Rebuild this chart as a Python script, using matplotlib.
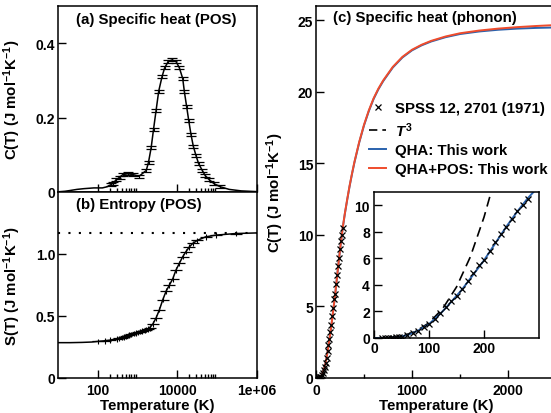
import numpy as np
import matplotlib
matplotlib.use("Agg")
import matplotlib.pyplot as plt
from matplotlib.lines import Line2D
from matplotlib.ticker import FixedLocator, FixedFormatter, NullFormatter

plt.rcParams['font.family'] = ['Liberation Sans', 'DejaVu Sans']
plt.rcParams['font.weight'] = 'bold'
plt.rcParams['mathtext.fontset'] = 'custom'
plt.rcParams['mathtext.rm'] = 'Liberation Sans:bold'
plt.rcParams['mathtext.bf'] = 'Liberation Sans:bold'
plt.rcParams['mathtext.it'] = 'Liberation Sans:bold:italic'
plt.rcParams['mathtext.default'] = 'bf'

# (a) POS specific heat
T_pos = [10, 15, 20, 30, 45, 60, 80, 100, 130, 170, 210, 241, 293, 356, 428, 570,
         760, 1080, 1650, 1880, 2190, 2510, 2920, 3390, 4110, 4790, 5920, 7300,
         9200, 11200, 13600, 15000, 17100, 19200, 22000, 25100, 29300, 34200,
         41700, 50100, 63100, 84300, 120000, 200000, 400000, 1000000]
C_pos = [0.0005, 0.002, 0.004, 0.007, 0.009, 0.010, 0.011, 0.011, 0.011, 0.014,
         0.019, 0.024, 0.033, 0.040, 0.047, 0.049, 0.047, 0.042, 0.058, 0.080,
         0.119, 0.168, 0.220, 0.271, 0.310, 0.334, 0.351, 0.355, 0.351, 0.334,
         0.305, 0.269, 0.229, 0.193, 0.154, 0.123, 0.098, 0.076, 0.059, 0.044,
         0.033, 0.022, 0.014, 0.007, 0.003, 0.001]
C_pos_err = 0.004

# (b) POS entropy
T_ent = [10, 20, 40, 70, 100, 150, 200, 300, 350, 400, 450, 500, 600, 700, 800,
         900, 1000, 1150, 1300, 1500, 1650, 1800, 2000, 2410, 2920, 3550, 4300,
         5200, 6300, 7650, 9200, 11200, 13600, 16500, 20000, 24200, 31600, 51000,
         91000, 290000, 1000000]
S_pos = [0.285, 0.285, 0.287, 0.290, 0.295, 0.300, 0.305, 0.315, 0.320, 0.325,
         0.330, 0.335, 0.345, 0.352, 0.360, 0.364, 0.368, 0.373, 0.378, 0.385,
         0.390, 0.396, 0.405, 0.435, 0.485, 0.552, 0.632, 0.700, 0.750, 0.800,
         0.870, 0.925, 0.978, 1.020, 1.058, 1.085, 1.110, 1.138, 1.152, 1.165, 1.170]
S_pos_err = 0.022
S_limit = 1.17

# (c) phonon specific heat
T_calc = [0, 20, 40, 60, 80, 100, 120, 140, 160, 180, 200, 220, 240, 260, 280,
          300, 325, 350, 375, 400, 450, 500, 550, 600, 650, 700, 800, 900, 1000,
          1100, 1200, 1350, 1500, 1700, 1900, 2100, 2300, 2500]
C_qha = [0.0, 0.01, 0.05, 0.2, 0.55, 1.05, 1.8, 2.7, 3.65, 4.75, 5.85, 7.1, 8.35,
         9.5, 10.55, 11.45, 12.45, 13.4, 14.25, 15.05, 16.45, 17.65, 18.65, 19.5,
         20.18, 20.75, 21.7, 22.4, 22.9, 23.25, 23.52, 23.82, 24.04, 24.22, 24.34,
         24.42, 24.47, 24.5]
C_qha_pos = [0.0, 0.014, 0.058, 0.21, 0.561, 1.061, 1.812, 2.714, 3.666, 4.767,
             5.869, 7.121, 8.374, 9.53, 10.582, 11.484, 12.487, 13.44, 14.293,
             15.095, 16.498, 17.699, 18.699, 19.549, 20.229, 20.798, 21.746,
             22.444, 22.943, 23.292, 23.565, 23.87, 24.095, 24.285, 24.422,
             24.525, 24.605, 24.67]

T_exp = [15, 20, 25, 30, 35, 40, 45, 50, 60, 70, 80, 90, 100, 110, 120, 130, 140,
         150, 160, 170, 180, 190, 200, 210, 220, 230, 240, 250, 260, 270, 280]
C_exp = [0.005, 0.01, 0.015, 0.02, 0.03, 0.04, 0.06, 0.1, 0.22, 0.38, 0.55, 0.8,
         1.05, 1.43, 1.86, 2.3, 2.76, 3.2, 3.7, 4.3, 4.9, 5.5, 5.9, 6.55, 7.2,
         7.85, 8.4, 9.0, 9.55, 10.0, 10.5]

T_cube = [0, 25, 50, 75, 100, 125, 150, 175, 200, 215]
C_cube = [0.0, 0.018, 0.142, 0.48, 1.14, 2.22, 3.84, 6.1, 9.1, 11.3]

blue = '#2a62ad'
red = '#ef4c2c'
fs = 10.8

W, H = 551, 414
fig = plt.figure(figsize=(W / 100, H / 100), dpi=100)


def box(l, t, r, b):
    return [l / W, 1 - b / H, (r - l) / W, (b - t) / H]


def style(ax, xpad=3.6, ypad=2):
    for s in ax.spines.values():
        s.set_linewidth(1.1)
    ax.tick_params(which='both', direction='in', labelsize=10, width=1.0)
    ax.tick_params(which='major', length=5.5)
    ax.tick_params(which='minor', length=3)
    ax.tick_params(axis='x', pad=xpad)
    ax.tick_params(axis='y', pad=ypad)
    ax.tick_params(top=False, right=False)


ax_a = fig.add_axes(box(58, 7, 257, 193))
ax_b = fig.add_axes(box(58, 193, 257, 379))
ax_c = fig.add_axes(box(316, 7, 556, 379))
ax_in = fig.add_axes(box(374, 193, 539, 339))

T_pos = np.array(T_pos)
C_pos = np.array(C_pos)
T_ent = np.array(T_ent)
S_pos = np.array(S_pos)

# (a)
ax_a.plot(T_pos, C_pos, color='k', lw=1.1)
m = (T_pos >= 200) & (T_pos <= 130000)
ax_a.errorbar(T_pos[m], C_pos[m], yerr=C_pos_err, fmt='none', ecolor='k',
              elinewidth=0.8, capsize=3.5, capthick=0.9)
ax_a.set_ylim(0, 0.5)
ax_a.set_yticks([0, 0.2, 0.4])
ax_a.set_yticklabels(['0', '0.2', '0.4'])
ax_a.set_ylabel('C(T) (J mol$^{-1}$K$^{-1}$)', fontsize=fs, fontweight='bold')
ax_a.text(0.09, 0.93, '(a) Specific heat (POS)', transform=ax_a.transAxes,
          fontsize=fs, fontweight='bold', va='center')

# (b)
ax_b.plot(T_ent, S_pos, color='k', lw=1.1)
m = (T_ent >= 100) & (T_ent <= 300000)
ax_b.errorbar(T_ent[m], S_pos[m], yerr=S_pos_err, fmt='_', color='k', ms=8,
              mew=0.9, elinewidth=0.8, capsize=0)
ax_b.axhline(S_limit, color='k', lw=1.5, ls=(0, (1, 4)))
ax_b.set_ylim(0, 1.5)
ax_b.set_yticks([0, 0.5, 1.0])
ax_b.set_yticklabels(['0', '0.5', '1.0'])
ax_b.set_ylabel('S(T) (J mol$^{-1}$K$^{-1}$)', fontsize=fs, fontweight='bold')
ax_b.set_xlabel('Temperature (K)', fontsize=fs, fontweight='bold', labelpad=1)
ax_b.text(0.09, 0.935, '(b) Entropy (POS)', transform=ax_b.transAxes,
          fontsize=fs, fontweight='bold', va='center')

minor_log = [200, 300, 400, 500, 600, 700, 800, 900,
             20000, 30000, 40000, 50000, 60000, 70000, 80000, 90000]
for ax in (ax_a, ax_b):
    ax.set_xscale('log')
    ax.set_xlim(10, 1e6)
    ax.xaxis.set_major_locator(FixedLocator([100, 10000, 1e6]))
    ax.xaxis.set_major_formatter(FixedFormatter(['100', '10000', '1e+06']))
    ax.xaxis.set_minor_locator(FixedLocator(minor_log))
    ax.xaxis.set_minor_formatter(NullFormatter())
    style(ax)
    ax.yaxis.set_label_coords(-0.176, 0.5)
ax_a.tick_params(axis='x', labelbottom=False)

# (c)
ax_c.plot(T_calc, C_qha, color=blue, lw=1.4)
ax_c.plot(T_calc, C_qha_pos, color=red, lw=1.4)
ax_c.plot(T_exp, C_exp, ls='none', marker='x', color='k', ms=4, mew=0.9)
ax_c.set_xlim(0, 2500)
ax_c.set_ylim(0, 26)
ax_c.set_xticks([0, 1000, 2000])
ax_c.set_xticks([500, 1500], minor=True)
ax_c.set_yticks([0, 5, 10, 15, 20, 25])
style(ax_c)
ax_c.set_ylabel('C(T) (J mol$^{-1}$K$^{-1}$)', fontsize=fs, fontweight='bold')
ax_c.yaxis.set_label_coords((286 - 316) / 240, 0.5)
ax_c.set_xlabel('Temperature (K)', fontsize=fs, fontweight='bold', labelpad=1)
ax_c.text(0.07, 0.97, '(c) Specific heat (phonon)', transform=ax_c.transAxes,
          fontsize=fs, fontweight='bold', va='center')

handles = [
    Line2D([], [], ls='none', marker='x', color='k', ms=4, mew=0.9),
    Line2D([], [], color='k', lw=1.2, dashes=(5, 3)),
    Line2D([], [], color=blue, lw=1.4),
    Line2D([], [], color=red, lw=1.4),
]
labels = ['SPSS 12, 2701 (1971)', r'$\mathit{T}^{3}$', 'QHA: This work',
          'QHA+POS: This work']
ax_c.legend(handles, labels, loc='upper left', bbox_to_anchor=(0.221, 0.744),
            frameon=False, fontsize=fs, handlelength=1.13, handletextpad=0.6,
            labelspacing=0.32, borderaxespad=0, borderpad=0)

# inset
ax_in.plot(T_cube, C_cube, color='k', lw=1.2, dashes=(6, 3.5))
ax_in.plot(T_calc, C_qha, color=blue, lw=1.4)
ax_in.plot(T_exp, C_exp, ls='none', marker='x', color='k', ms=4, mew=0.9)
ax_in.set_xlim(0, 300)
ax_in.set_ylim(0, 11)
ax_in.set_xticks([0, 100, 200])
ax_in.set_yticks([0, 2, 4, 6, 8, 10])
style(ax_in, xpad=2, ypad=3)

fig.savefig('out.png', dpi=100)
